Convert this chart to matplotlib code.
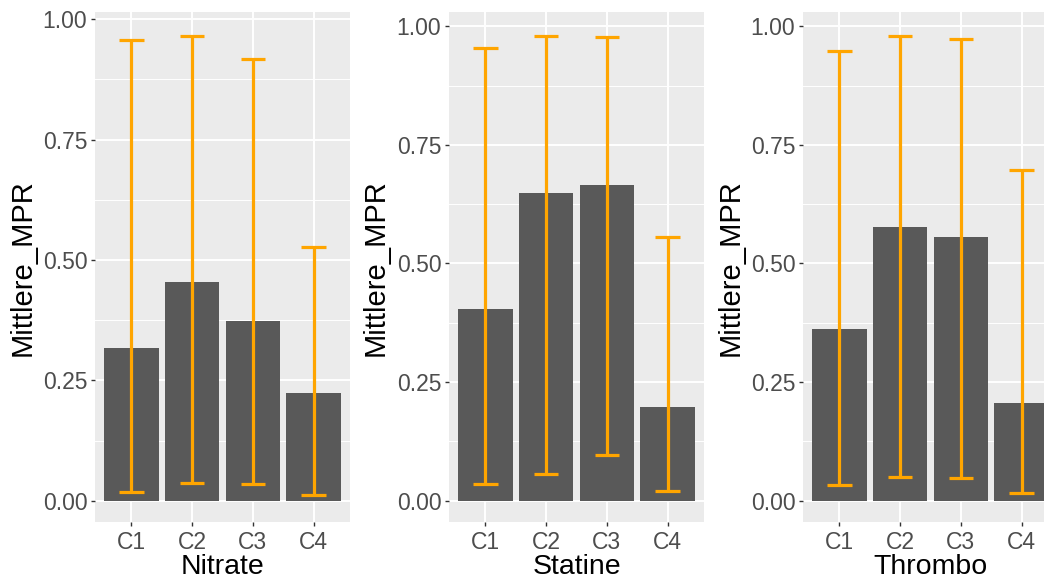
import matplotlib
matplotlib.use("Agg")
import matplotlib.pyplot as plt
from matplotlib.ticker import FixedLocator
import numpy as np

categories = ["C1", "C2", "C3", "C4"]
panel_names = ["Nitrate", "Statine", "Thrombo"]
y_ticks = [0.00, 0.25, 0.50, 0.75, 1.00]
y_tick_labels = ["0.00", "0.25", "0.50", "0.75", "1.00"]

nitrate_mean = [0.318, 0.455, 0.373, 0.223]
nitrate_lo = [0.019, 0.036, 0.034, 0.011]
nitrate_hi = [0.958, 0.966, 0.917, 0.527]

statine_mean = [0.404, 0.648, 0.665, 0.198]
statine_lo = [0.036, 0.057, 0.096, 0.021]
statine_hi = [0.955, 0.980, 0.977, 0.556]

thrombo_mean = [0.361, 0.576, 0.556, 0.206]
thrombo_lo = [0.034, 0.051, 0.047, 0.017]
thrombo_hi = [0.947, 0.980, 0.972, 0.698]

panels = [
    (nitrate_mean, nitrate_lo, nitrate_hi),
    (statine_mean, statine_lo, statine_hi),
    (thrombo_mean, thrombo_lo, thrombo_hi),
]

plt.rcParams['font.family'] = ['Liberation Sans', 'DejaVu Sans']

W, H = 1044, 584
fig = plt.figure(figsize=(W / 100, H / 100), dpi=100)

# axes boxes in pixels (left, top, right, bottom)
boxes = [(95, 11.5, 350, 521.7), (449, 11.5, 704, 521.7), (803, 11.5, 1058, 521.7)]
ylabel_x = [23, 376, 731]

for (mean, lo, hi), name, (l, t, r, b), ylx in zip(panels, panel_names, boxes, ylabel_x):
    ax = fig.add_axes([l / W, 1 - b / H, (r - l) / W, (b - t) / H])
    ax.set_facecolor("#EBEBEB")
    x = np.arange(len(categories))
    ax.bar(x, mean, width=0.9, color="#595959", zorder=3)
    for xi, lo_i, hi_i in zip(x, lo, hi):
        ax.plot([xi, xi], [lo_i, hi_i], color="#FFA500", lw=2.3, zorder=4, solid_capstyle="butt")
        ax.plot([xi - 0.2, xi + 0.2], [lo_i, lo_i], color="#FFA500", lw=2.3, zorder=4, solid_capstyle="butt")
        ax.plot([xi - 0.2, xi + 0.2], [hi_i, hi_i], color="#FFA500", lw=2.3, zorder=4, solid_capstyle="butt")
    ymax = max(hi)
    ax.set_ylim(-0.045 * ymax, ymax * 1.052)
    ax.set_xlim(-0.6, len(categories) - 0.4)
    ax.set_xticks(x)
    ax.set_xticklabels(categories)
    ax.set_yticks(y_ticks)
    ax.set_yticklabels(y_tick_labels)
    ax.yaxis.set_minor_locator(FixedLocator([0.125, 0.375, 0.625, 0.875]))
    ax.grid(True, which="major", color="white", lw=1.4, zorder=1)
    ax.grid(True, which="minor", axis="y", color="white", lw=0.7, zorder=1)
    ax.tick_params(axis="both", which="major", length=3, width=1, color="#333333",
                   labelsize=16.5, labelcolor="#4D4D4D")
    ax.tick_params(axis="x", pad=3.5)
    ax.tick_params(axis="y", pad=2.5)
    ax.tick_params(which="minor", length=0)
    for s in ax.spines.values():
        s.set_visible(False)
    ax.set_axisbelow(True)
    ax.set_xlabel(name, fontsize=20.5, color="black", labelpad=0)
    fig.text(ylx / W, 1 - 268 / H, "Mittlere_MPR", rotation=90, fontsize=21,
             ha="center", va="center", color="black")

fig.savefig("out.png", dpi=100, facecolor="white")
